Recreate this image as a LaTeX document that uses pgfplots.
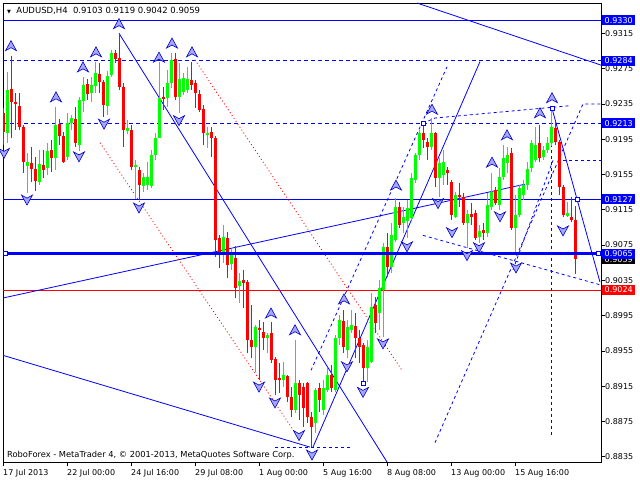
\documentclass[border=0pt]{standalone}
\usepackage{pgfplots}
\pgfplotsset{compat=1.18}
\usepackage{pgfplotstable}
\usepackage{fontspec}
\setmainfont{DejaVu Sans}

\definecolor{bull}{RGB}{0,255,0}
\definecolor{bear}{RGB}{255,0,0}
\definecolor{mtblue}{RGB}{0,0,255}

% fractal arrows
\pgfdeclareplotmark{fup}{%
  \pgfpathmoveto{\pgfqpoint{0pt}{5pt}}%
  \pgfpathlineto{\pgfqpoint{5.5pt}{-5pt}}%
  \pgfpathlineto{\pgfqpoint{0pt}{-2pt}}%
  \pgfpathlineto{\pgfqpoint{-5.5pt}{-5pt}}%
  \pgfpathclose\pgfusepathqfillstroke}
\pgfdeclareplotmark{fdn}{%
  \pgfpathmoveto{\pgfqpoint{0pt}{-5pt}}%
  \pgfpathlineto{\pgfqpoint{5.5pt}{5pt}}%
  \pgfpathlineto{\pgfqpoint{0pt}{2pt}}%
  \pgfpathlineto{\pgfqpoint{-5.5pt}{5pt}}%
  \pgfpathclose\pgfusepathqfillstroke}

% AUDUSD H4, bar index / open / high / low / close
\pgfplotstableread{
i o h l c
1 0.9202 0.9271 0.9191 0.9251
6 0.9165 0.9179 0.9134 0.9169
9 0.9146 0.9183 0.9143 0.9167
11 0.9162 0.9191 0.9154 0.9182
13 0.9174 0.9232 0.9160 0.9211
16 0.9175 0.9225 0.9171 0.9213
17 0.9213 0.9222 0.9205 0.9219
19 0.9188 0.9243 0.9182 0.9239
20 0.9238 0.9266 0.9226 0.9256
22 0.9247 0.9266 0.9237 0.9256
23 0.9255 0.9283 0.9247 0.9270
26 0.9233 0.9272 0.9222 0.9267
27 0.9268 0.9296 0.9266 0.9293
31 0.9204 0.9217 0.9201 0.9208
33 0.9164 0.9171 0.9127 0.9166
35 0.9142 0.9157 0.9135 0.9152
36 0.9143 0.9169 0.9137 0.9152
37 0.9142 0.9183 0.9140 0.9177
38 0.9177 0.9202 0.9171 0.9197
39 0.9197 0.9283 0.9196 0.9242
41 0.9242 0.9273 0.9232 0.9259
42 0.9259 0.9293 0.9253 0.9285
44 0.9243 0.9281 0.9225 0.9263
45 0.9249 0.9270 0.9245 0.9264
46 0.9251 0.9277 0.9247 0.9263
51 0.9200 0.9209 0.9185 0.9202
55 0.9066 0.9098 0.9055 0.9084
57 0.9054 0.9071 0.9047 0.9064
59 0.9029 0.9043 0.9009 0.9034
63 0.8959 0.8984 0.8931 0.8982
66 0.8970 0.8975 0.8953 0.8973
70 0.8922 0.8942 0.8914 0.8928
73 0.8888 0.8967 0.8885 0.8919
78 0.8873 0.8913 0.8862 0.8911
80 0.8888 0.8922 0.8883 0.8913
81 0.8911 0.8936 0.8908 0.8928
83 0.8911 0.8973 0.8908 0.8970
84 0.8970 0.8996 0.8962 0.8990
86 0.8956 0.8990 0.8947 0.8982
87 0.8979 0.9001 0.8975 0.8984
91 0.8936 0.8967 0.8920 0.8959
92 0.8942 0.9021 0.8941 0.9005
94 0.8998 0.9035 0.8979 0.9026
95 0.9024 0.9077 0.8971 0.9073
97 0.9050 0.9100 0.9043 0.9086
98 0.9081 0.9128 0.9078 0.9118
100 0.9100 0.9118 0.9089 0.9107
101 0.9102 0.9126 0.9083 0.9117
102 0.9106 0.9157 0.9103 0.9151
103 0.9149 0.9180 0.9146 0.9177
104 0.9177 0.9205 0.9171 0.9202
107 0.9186 0.9219 0.9183 0.9202
109 0.9151 0.9174 0.9130 0.9168
110 0.9154 0.9183 0.9143 0.9169
113 0.9107 0.9135 0.9106 0.9132
116 0.9100 0.9115 0.9072 0.9110
119 0.9084 0.9098 0.9077 0.9091
121 0.9089 0.9134 0.9084 0.9120
122 0.9118 0.9157 0.9115 0.9135
124 0.9120 0.9162 0.9115 0.9152
125 0.9152 0.9188 0.9149 0.9174
126 0.9168 0.9186 0.9157 0.9177
128 0.9094 0.9132 0.9064 0.9109
129 0.9109 0.9143 0.9107 0.9140
130 0.9132 0.9149 0.9126 0.9143
131 0.9143 0.9169 0.9137 0.9161
132 0.9162 0.9194 0.9158 0.9191
133 0.9171 0.9209 0.9169 0.9188
135 0.9175 0.9187 0.9171 0.9183
136 0.9183 0.9197 0.9179 0.9191
137 0.9191 0.9230 0.9187 0.9209
141 0.9108 0.9124 0.9107 0.9111
}\upbars

\pgfplotstableread{
i o h l c
0 0.9225 0.9230 0.9188 0.9203
2 0.9252 0.9289 0.9197 0.9237
3 0.9237 0.9247 0.9205 0.9235
4 0.9233 0.9247 0.9205 0.9209
5 0.9209 0.9211 0.9157 0.9169
7 0.9168 0.9186 0.9146 0.9161
8 0.9161 0.9175 0.9136 0.9148
10 0.9166 0.9183 0.9151 0.9160
12 0.9183 0.9194 0.9158 0.9174
14 0.9212 0.9218 0.9188 0.9199
15 0.9199 0.9203 0.9168 0.9169
18 0.9218 0.9232 0.9186 0.9191
21 0.9258 0.9263 0.9239 0.9246
24 0.9269 0.9281 0.9247 0.9260
25 0.9260 0.9262 0.9220 0.9234
28 0.9293 0.9296 0.9281 0.9286
29 0.9287 0.9316 0.9251 0.9254
30 0.9254 0.9259 0.9186 0.9205
32 0.9205 0.9211 0.9160 0.9164
34 0.9160 0.9164 0.9126 0.9143
40 0.9243 0.9254 0.9228 0.9241
43 0.9286 0.9293 0.9239 0.9243
47 0.9262 0.9283 0.9251 0.9256
48 0.9259 0.9262 0.9230 0.9247
49 0.9246 0.9251 0.9226 0.9228
50 0.9229 0.9234 0.9188 0.9202
52 0.9203 0.9209 0.9175 0.9196
53 0.9196 0.9199 0.9061 0.9081
54 0.9083 0.9086 0.9049 0.9066
56 0.9083 0.9090 0.9038 0.9052
58 0.9061 0.9074 0.9015 0.9027
60 0.9035 0.9047 0.9004 0.9032
61 0.9033 0.9035 0.8953 0.8967
62 0.8967 0.9007 0.8947 0.8959
64 0.8981 0.8990 0.8922 0.8979
65 0.8976 0.8988 0.8956 0.8970
67 0.8975 0.8988 0.8941 0.8945
68 0.8946 0.8948 0.8905 0.8922
69 0.8924 0.8941 0.8907 0.8922
71 0.8927 0.8928 0.8897 0.8903
72 0.8903 0.8914 0.8880 0.8888
74 0.8919 0.8922 0.8877 0.8905
75 0.8914 0.8919 0.8869 0.8890
76 0.8919 0.8920 0.8873 0.8880
77 0.8880 0.8886 0.8846 0.8869
79 0.8913 0.8919 0.8886 0.8899
82 0.8928 0.8939 0.8908 0.8913
85 0.8989 0.9001 0.8953 0.8959
88 0.8983 0.8998 0.8947 0.8970
89 0.8970 0.8979 0.8941 0.8959
90 0.8962 0.8964 0.8918 0.8936
93 0.9007 0.9016 0.8975 0.8987
96 0.9073 0.9089 0.9039 0.9050
99 0.9118 0.9124 0.9094 0.9098
105 0.9202 0.9213 0.9185 0.9194
106 0.9192 0.9196 0.9171 0.9186
108 0.9202 0.9203 0.9141 0.9151
111 0.9160 0.9164 0.9143 0.9157
112 0.9146 0.9149 0.9103 0.9109
114 0.9132 0.9145 0.9118 0.9130
115 0.9130 0.9134 0.9098 0.9100
117 0.9110 0.9123 0.9098 0.9107
118 0.9112 0.9115 0.9081 0.9083
120 0.9092 0.9100 0.9081 0.9089
123 0.9137 0.9141 0.9120 0.9123
127 0.9179 0.9185 0.9092 0.9094
134 0.9191 0.9211 0.9169 0.9174
138 0.9208 0.9215 0.9188 0.9192
139 0.9192 0.9194 0.9132 0.9141
140 0.9141 0.9143 0.9107 0.9109
142 0.9107 0.9130 0.9101 0.9103
143 0.9103 0.9119 0.9042 0.9059
}\downbars

\begin{document}
\begin{tikzpicture}
\begin{axis}[
    at={(3pt,18pt)}, anchor=south west,
    scale only axis, width=598pt, height=459pt,
    xmin=0, xmax=149.5, ymin=0.88291, ymax=0.93494,
    clip mode=individual,
    font=\fontsize{8}{9}\selectfont,
    axis line style={black, line width=0.8pt},
    tick style={black, line width=0.6pt},
    tick align=outside, major tick length=4pt,
    xtick pos=bottom, ytick pos=right, yticklabel pos=right,
    xtick={0,16,32,48,64,80,96,112,128},
    xticklabels={17 Jul 2013,22 Jul 00:00,24 Jul 16:00,29 Jul 08:00,1 Aug 00:00,5 Aug 16:00,8 Aug 08:00,13 Aug 00:00,15 Aug 16:00},
    xticklabel style={anchor=north west, inner sep=0pt, yshift=-3pt},
    ytick={0.8835,0.8875,0.8915,0.8955,0.8995,0.9035,0.9075,0.9115,0.9155,0.9195,0.9235,0.9275,0.9315},
    yticklabels={0.8835,0.8875,0.8915,0.8955,0.8995,0.9035,0.9075,0.9115,0.9155,0.9195,0.9235,0.9275,0.9315},
    yticklabel style={anchor=west, inner sep=0pt, xshift=0pt},
    candle/.style={draw=none, mark=none, error bars/.cd, y dir=both, y explicit, error mark=none},
]
% horizontal levels
\addplot[mtblue, line width=1pt] coordinates {(0,0.9330) (149.5,0.9330)};
\addplot[mtblue, line width=1pt, dash pattern=on 4pt off 3pt] coordinates {(0,0.9284) (149.5,0.9284)};
\addplot[mtblue, line width=1pt, dash pattern=on 4pt off 3pt] coordinates {(0,0.9213) (149.5,0.9213)};
\addplot[mtblue, line width=1pt] coordinates {(0,0.9127) (149.5,0.9127)};
\addplot[bear, line width=1pt] coordinates {(0,0.9024) (149.5,0.9024)};

% trend lines
\addplot[mtblue, line width=0.8pt] coordinates {(29,0.9315) (96,0.88291)};
\addplot[mtblue, line width=0.8pt] coordinates {(0,0.9015) (130.5,0.9144)};
\addplot[mtblue, line width=0.8pt] coordinates {(103.5,0.93494) (149.5,0.9279)};
\addplot[mtblue, line width=0.8pt] coordinates {(0,0.8950) (76.75,0.8846)};
\addplot[mtblue, line width=0.8pt] coordinates {(77.5,0.8846) (119.25,0.9283)};
\addplot[mtblue, line width=0.8pt] coordinates {(137.25,0.9230) (143.5,0.9127) (149.25,0.9033)};

% dashed channels
\addplot[mtblue, line width=0.8pt, dash pattern=on 3pt off 3pt] coordinates {(105,0.9213) (108,0.9219) (141.75,0.9233)};
\addplot[mtblue, line width=0.8pt, dash pattern=on 3pt off 3pt] coordinates {(108,0.8851) (145,0.9235) (149.5,0.9235)};
\addplot[mtblue, line width=0.8pt, dash pattern=on 3pt off 3pt] coordinates {(105,0.9086) (149.25,0.9030)};
\addplot[mtblue, line width=0.8pt, dash pattern=on 3pt off 3pt] coordinates {(137,0.9230) (137,0.8857)};
\addplot[mtblue, line width=0.8pt, dash pattern=on 3pt off 3pt] coordinates {(68,0.8846) (86.75,0.8846)};
\addplot[mtblue, line width=0.8pt, dash pattern=on 3pt off 3pt] coordinates {(77,0.8933) (111,0.9277)};
\addplot[mtblue, line width=0.8pt, dash pattern=on 3pt off 3pt] coordinates {(140,0.9171) (149.5,0.9171)};
\addplot[mtblue, line width=0.8pt, dash pattern=on 3pt off 3pt] coordinates {(127.5,0.9047) (137.5,0.9171)};

% red dotted
\addplot[bear, line width=0.8pt, dash pattern=on 1pt off 2.5pt] coordinates {(48,0.9285) (99.75,0.8933)};
\addplot[bear, line width=0.8pt, dash pattern=on 1pt off 2.5pt] coordinates {(24.25,0.9191) (74.25,0.8854)};

% candles: wicks and bodies
\addplot[candle, error bar style={line width=1pt, draw=bull}]
  table[x=i, y expr={(\thisrow{h}+\thisrow{l})/2}, y error expr={(\thisrow{h}-\thisrow{l})/2}] {\upbars};
\addplot[candle, error bar style={line width=3pt, draw=bull}]
  table[x=i, y expr={(\thisrow{o}+\thisrow{c})/2}, y error expr={max(abs(\thisrow{o}-\thisrow{c})/2,0.00006)}] {\upbars};
\addplot[candle, error bar style={line width=1pt, draw=bear}]
  table[x=i, y expr={(\thisrow{h}+\thisrow{l})/2}, y error expr={(\thisrow{h}-\thisrow{l})/2}] {\downbars};
\addplot[candle, error bar style={line width=3pt, draw=bear}]
  table[x=i, y expr={(\thisrow{o}+\thisrow{c})/2}, y error expr={max(abs(\thisrow{o}-\thisrow{c})/2,0.00006)}] {\downbars};

% support level 0.9065
\addplot[mtblue, line width=3pt] coordinates {(0,0.9065) (149.5,0.9065)};

% fractals
\addplot[only marks, mark=fup, mark options={fill=mtblue!35!white, draw=mtblue!75!black, line width=0.6pt}] coordinates {
(2,0.9301) (13.25,0.9243) (20,0.9277) (23.25,0.9294) (29,0.9326) (39,0.9288) (42.25,0.9304) (47.25,0.9294)
(67,0.8998) (73,0.8979) (85.25,0.9014) (98.25,0.9143) (107.25,0.9229) (122.25,0.9169) (126,0.9200)
(134.25,0.9225) (137.25,0.9242)};
\addplot[only marks, mark=fdn, mark options={fill=mtblue!35!white, draw=mtblue!75!black, line width=0.6pt}] coordinates {
(0.25,0.9179) (6,0.9126) (19,0.9175) (25.25,0.9212) (34,0.9117) (44,0.9216) (64,0.8914) (68,0.8896)
(74,0.8859) (77.25,0.8837) (86,0.8937) (90,0.8908) (95,0.8963) (101,0.9073) (108.75,0.9122)
(112.25,0.9089) (116,0.9063) (119,0.9072) (124.25,0.9107) (128.25,0.9049) (140,0.9091)};

% line anchors
\addplot[only marks, mark=square*, mark size=2pt, mark options={fill=white, draw=mtblue, line width=0.8pt}] coordinates {
(0.5,0.9065) (148.75,0.9065) (105,0.9213) (137.25,0.9230) (143.5,0.9127) (90,0.8918)};

% price labels on the scale
\tikzset{pricebox/.style={anchor=west, text=white, font=\fontsize{8}{9}\selectfont, inner xsep=2.5pt, inner ysep=1pt, minimum height=10pt, xshift=1pt}}
\node[pricebox, fill=mtblue] at (axis cs:149.5,0.9330) {0.9330};
\node[pricebox, fill=mtblue] at (axis cs:149.5,0.9284) {0.9284};
\node[pricebox, fill=mtblue] at (axis cs:149.5,0.9213) {0.9213};
\node[pricebox, fill=mtblue] at (axis cs:149.5,0.9127) {0.9127};
\node[pricebox, fill=black] at (axis cs:149.5,0.9059) {0.9059};
\node[pricebox, fill=mtblue] at (axis cs:149.5,0.9065) {0.9065};
\node[pricebox, fill=bear] at (axis cs:149.5,0.9024) {0.9024};
\end{axis}
\node[anchor=west, inner sep=0pt, font=\fontsize{8.5}{10}\selectfont] at (7pt,469pt)
  {{\fontsize{5}{5}\selectfont ▼}\ \ AUDUSD,H4\ \ 0.9103 0.9119 0.9042 0.9059};
\node[anchor=west, inner sep=0pt, font=\fontsize{8.3}{10}\selectfont] at (7pt,25pt)
  {RoboForex - MetaTrader 4, © 2001-2013, MetaQuotes Software Corp.};
\pgfresetboundingbox
\useasboundingbox (0pt,0pt) rectangle (640pt,480pt);
\end{tikzpicture}
\end{document}
